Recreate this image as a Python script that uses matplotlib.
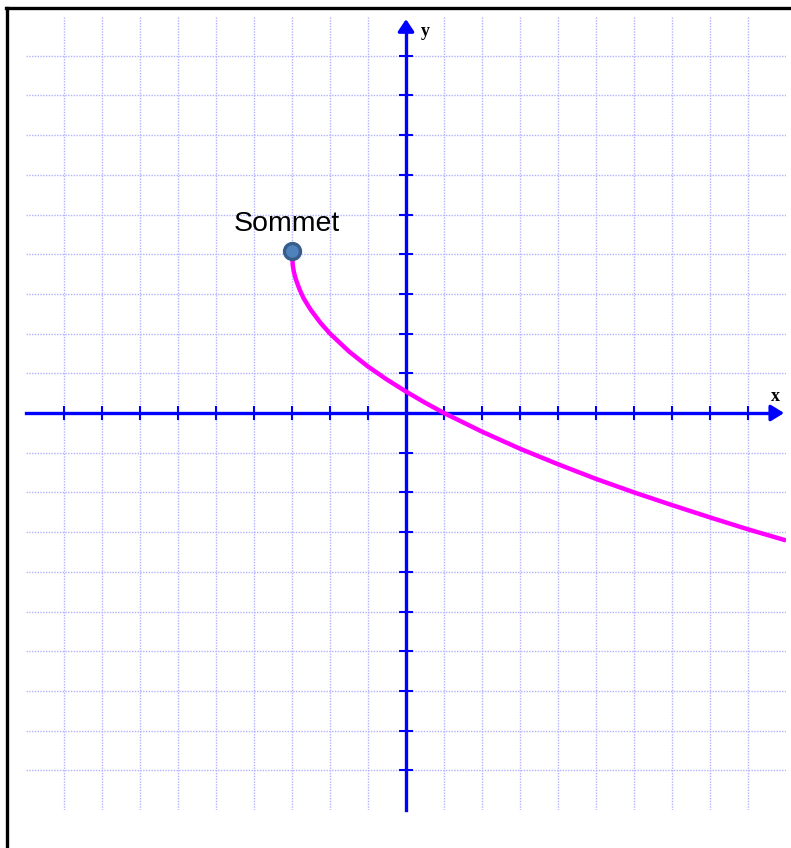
import matplotlib.pyplot as plt
from matplotlib.lines import Line2D

# courbe (sommet en (-3, 4))
x_vals = [-3, -2.98, -2.95, -2.9, -2.8, -2.7, -2.6, -2.5, -2.25, -2, -1.5, -1, -0.5,
          0, 0.5, 1, 2, 3, 4, 5, 6, 7, 8, 9, 10]
y_vals = [4.05, 3.72, 3.55, 3.37, 3.11, 2.90, 2.74, 2.59, 2.27, 2.0, 1.55, 1.17, 0.84,
          0.54, 0.26, 0, -0.47, -0.90, -1.29, -1.66, -2.0, -2.32, -2.63, -2.93, -3.21]
sommet = (-3, 4.07)
sommet_label = "Sommet"
ticks = [t for t in range(-9, 10) if t != 0]

fig = plt.figure(figsize=(7.91, 8.48), dpi=100)
ax = fig.add_axes([26 / 791, 38 / 848, 760 / 791, 794 / 848])
ax.set_xlim(-10, 10)
ax.set_ylim(-10, 10)

# quadrillage
ax.set_xticks(ticks)
ax.set_yticks(ticks)
ax.grid(True, color='#b2b2ff', linestyle=(0, (1, 1)), linewidth=1.0)
ax.set_axisbelow(True)

# axes au centre
for s in ['top', 'right']:
    ax.spines[s].set_visible(False)
ax.spines['left'].set_position(('data', 0))
ax.spines['bottom'].set_position(('data', 0))
ax.spines['left'].set_bounds(-10, 9.8)
ax.spines['bottom'].set_bounds(-10, 9.8)
for s in ['left', 'bottom']:
    ax.spines[s].set_color('#0000ff')
    ax.spines[s].set_linewidth(2.4)
ax.tick_params(direction='inout', length=10, width=1.5, color='#0000ff',
               labelbottom=False, labelleft=False)

# fleches
ax.annotate('', xy=(9.95, 0), xytext=(9.6, 0),
            arrowprops=dict(arrowstyle='-|>,head_length=0.65,head_width=0.4',
                            color='#0000ff', lw=2.4, shrinkA=0, shrinkB=0,
                            mutation_scale=12))
ax.annotate('', xy=(0, 9.92), xytext=(0, 9.6),
            arrowprops=dict(arrowstyle='-|>,head_length=0.6,head_width=0.4',
                            color='#0000ff', lw=2.4, shrinkA=0, shrinkB=0,
                            mutation_scale=12))
ax.text(9.71, 0.42, 'x', fontsize=13, fontweight='bold', family='Liberation Serif',
        ha='center', va='center')
ax.text(0.5, 9.62, 'y', fontsize=13, fontweight='bold', family='Liberation Serif',
        ha='center', va='center')

# courbe + sommet
ax.plot(x_vals, y_vals, color='#ff00ff', lw=3.2, zorder=4, solid_capstyle='butt')
ax.plot(sommet[0], sommet[1], 'o', ms=11.5, mfc='#4f81bd', mec='#385d8a', mew=2.4,
        zorder=5)
ax.text(sommet[0] - 0.13, sommet[1] + 0.52, sommet_label, fontsize=20.5,
        family='Liberation Sans', ha='center', va='baseline')

# cadre
fig.add_artist(Line2D([6.5 / 791, 1], [1 - 8 / 848, 1 - 8 / 848], color='black', lw=2.4))
fig.add_artist(Line2D([7 / 791, 7 / 791], [0, 1 - 8 / 848], color='black', lw=2.4))

fig.savefig('out.png', dpi=100)
